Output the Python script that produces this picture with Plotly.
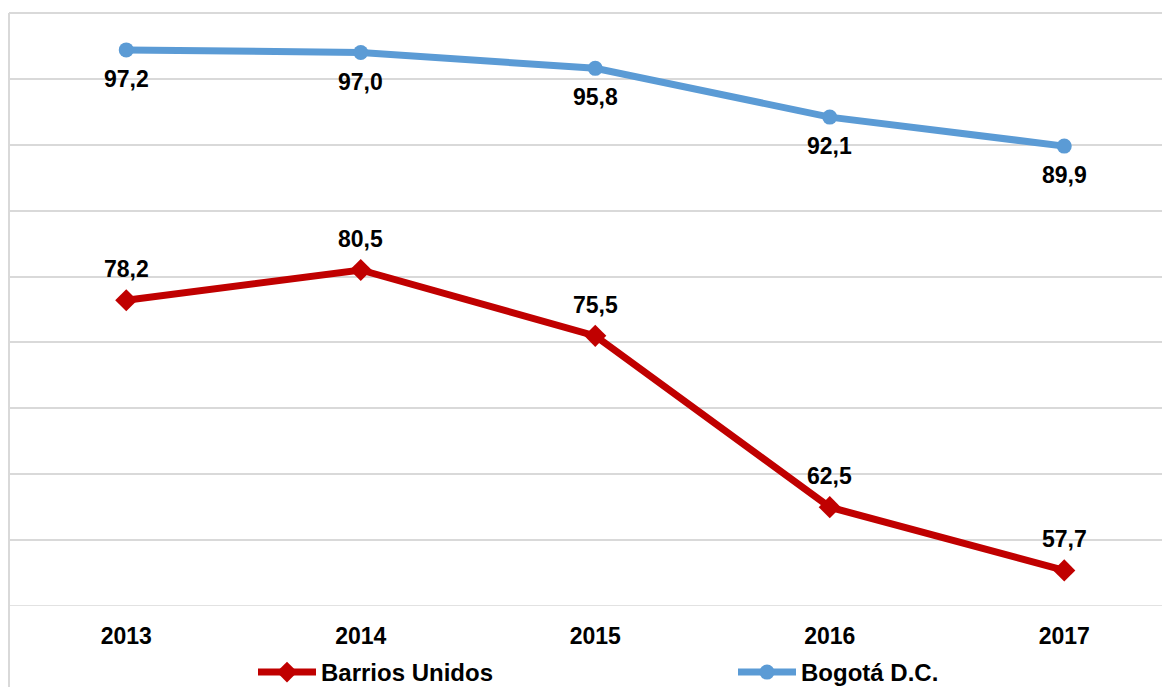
import plotly.graph_objects as go

years = ["2013", "2014", "2015", "2016", "2017"]
barrios_unidos = [78.2, 80.5, 75.5, 62.5, 57.7]
bogota = [97.2, 97.0, 95.8, 92.1, 89.9]

RED = "#C00000"
BLUE = "#5B9BD5"
FONT = "Liberation Sans, Arial, sans-serif"

xpos = list(range(len(years)))


def fmt(v):
    return f"{v:.1f}".replace(".", ",")


fig = go.Figure()
fig.add_trace(go.Scatter(
    x=xpos, y=barrios_unidos, mode="lines+markers", name="<b>Barrios Unidos</b>",
    line=dict(color=RED, width=7), marker=dict(symbol="diamond", size=17, color=RED),
    legend="legend",
))
fig.add_trace(go.Scatter(
    x=xpos, y=bogota, mode="lines+markers", name="<b>Bogotá D.C.</b>",
    line=dict(color=BLUE, width=7), marker=dict(symbol="circle", size=15, color=BLUE),
    legend="legend2",
))

annotations = []
for xi, v in zip(xpos, barrios_unidos):
    annotations.append(dict(x=xi, y=v, xref="x", yref="y", text=f"<b>{fmt(v)}</b>",
                            showarrow=False, yshift=31, font=dict(size=23, color="black", family=FONT)))
for xi, v in zip(xpos, bogota):
    annotations.append(dict(x=xi, y=v, xref="x", yref="y", text=f"<b>{fmt(v)}</b>",
                            showarrow=False, yshift=-29, font=dict(size=23, color="black", family=FONT)))

PLOT_H = 594
PLOT_W = 1169

fig.update_layout(
    width=1170, height=687,
    margin=dict(l=1, r=0, t=5, b=88),
    paper_bgcolor="white", plot_bgcolor="white",
    font=dict(family=FONT, color="black"),
    annotations=annotations,
    xaxis=dict(
        tickmode="array", tickvals=xpos, ticktext=[f"<b>{y}</b>" for y in years],
        range=[-0.5, -0.5 + PLOT_W / 234.5], showgrid=False, zeroline=False, showline=False,
        ticks="outside", ticklen=9, tickcolor="rgba(0,0,0,0)",
        tickfont=dict(size=23, color="black", family=FONT),
    ),
    yaxis=dict(
        range=[55, 100], dtick=5, showticklabels=False, showgrid=True,
        gridcolor="#D9D9D9", gridwidth=1.5, zeroline=False, showline=False,
    ),
    legend=dict(
        orientation="h", x=(245 - 1) / PLOT_W, xanchor="left", y=-0.113, yanchor="middle",
        font=dict(size=24, color="black", family=FONT), itemwidth=58,
        bgcolor="rgba(0,0,0,0)",
    ),
    legend2=dict(
        orientation="h", x=(725 - 1) / PLOT_W, xanchor="left", y=-0.113, yanchor="middle",
        font=dict(size=24, color="black", family=FONT), itemwidth=58,
        bgcolor="rgba(0,0,0,0)",
    ),
    showlegend=True,
    shapes=[
        dict(type="line", xref="paper", yref="paper", x0=0, x1=0, y0=1, y1=-0.2,
             line=dict(color="#D9D9D9", width=2)),
        dict(type="line", xref="paper", yref="paper", x0=0, x1=1, y0=1, y1=1,
             line=dict(color="#D9D9D9", width=2)),
        dict(type="line", xref="paper", yref="y", x0=0, x1=1, y0=55, y1=55,
             line=dict(color="#D9D9D9", width=1.5), layer="below"),
    ],
)

fig.write_html("out.html")
